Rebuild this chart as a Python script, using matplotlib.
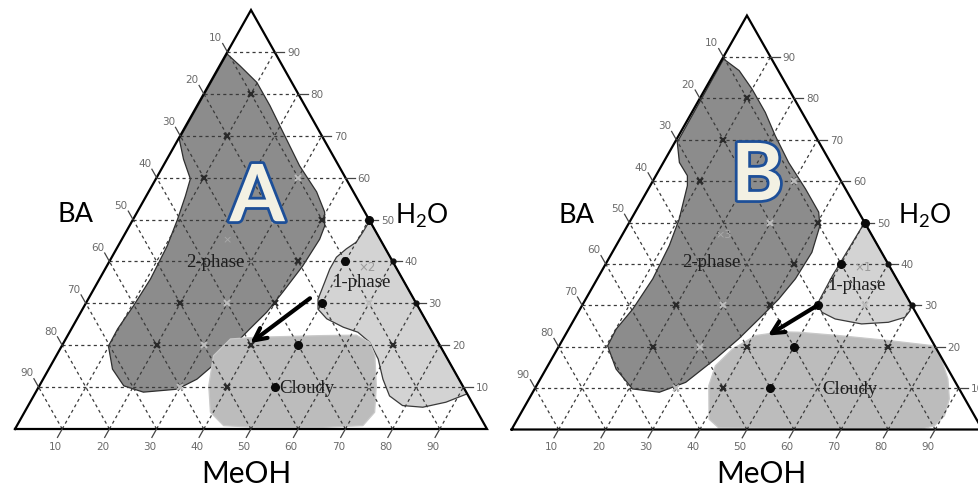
import numpy as np
import matplotlib.pyplot as plt
from matplotlib.patches import Polygon
from matplotlib import patheffects as pe

# all compositions in %, BA = 100 - MeOH - H2O
ticks = [10, 20, 30, 40, 50, 60, 70, 80, 90]
tick_labels = ['10', '20', '30', '40', '50', '60', '70', '80', '90']

# --- panel A regions (MeOH, H2O) ---
a_two_meoh = [0.2, 4.3, 9.9, 15.4, 21.3, 28.9, 35.6, 39.7, 41.4, 41.9, 41.5, 40.4, 39.4, 37.8, 36.3,
              34.8, 32.6, 29.6, 22.8, 17.9, 13.5, 9.9, 9.8, 10.4, 10.8, 10.4, 9.4, 8.3, 7.3, 3.5, 0.2]
a_two_h2o = [89.5, 86.7, 82.7, 77.2, 70.9, 62.8, 56.6, 51.8, 48.4, 45.3, 38.9, 32.7, 27.9, 23.9, 19.8,
             16.0, 11.9, 9.5, 8.8, 10.3, 14.3, 19.8, 23.9, 29.4, 35.8, 43.7, 50.1, 55.6, 59.7, 64.4, 69.2]
a_one_meoh = [50.3, 50.2, 50.0, 48.7, 47.6, 47.6, 48.1, 48.7, 49.9, 52.9, 57.4, 61.1, 64.8, 68.6,
              72.0, 75.4, 79.3, 83.8, 88.1, 91.6]
a_one_h2o = [49.7, 46.9, 44.6, 43.0, 41.0, 38.2, 35.0, 31.0, 28.6, 26.3, 24.3, 23.1, 20.7, 16.7,
             11.9, 7.9, 5.6, 5.2, 6.4, 8.4]
a_cloud_meoh = [33.3, 34.9, 40.3, 54.1, 61.1, 64.8, 67.5, 71.4, 74.2, 73.3, 65.1, 51.0, 43.8, 39.4, 35.9]
a_cloud_h2o = [17.5, 21.5, 21.9, 22.3, 22.4, 20.7, 17.5, 10.3, 4.0, 0.8, 0.4, 0.4, 0.8, 4.0, 10.3]
a_arrow = [(46.9, 31.2), (39.6, 20.5)]

# --- panel B regions (MeOH, H2O) ---
b_two_meoh = [0.3, 5.0, 10.0, 15.6, 20.5, 26.6, 33.4, 39.0, 40.9, 42.4, 42.1, 41.0, 39.2, 37.3, 34.8,
              31.3, 26.9, 20.8, 14.9, 10.3, 10.1, 11.2, 11.8, 11.3, 10.2, 7.9, 6.7, 3.4, 0.5]
b_two_h2o = [89.5, 86.7, 82.2, 76.6, 71.0, 64.5, 58.1, 52.5, 49.2, 42.8, 36.4, 31.5, 26.7, 21.9, 17.1,
             11.4, 9.0, 9.8, 14.6, 20.2, 24.3, 29.1, 36.4, 44.4, 50.8, 58.9, 61.3, 64.5, 69.4]
b_one_meoh = [50.0, 49.8, 49.6, 49.8, 51.8, 55.4, 61.6, 67.1, 70.0, 70.3, 69.9]
b_one_h2o = [50.0, 43.6, 37.2, 30.3, 28.3, 26.7, 25.5, 25.9, 27.1, 28.7, 30.1]
b_cloud_meoh = [40.7, 36.6, 35.6, 37.2, 40.5, 45.6, 49.2, 58.1, 69.3, 79.8, 82.8, 86.6, 89.3, 90.3,
                89.4, 87.0, 43.8]
b_cloud_h2o = [2.5, 10.6, 15.4, 19.4, 22.7, 23.6, 23.5, 22.7, 21.5, 20.2, 17.0, 12.2, 7.4, 3.3,
               0.9, 0.1, 0.4]
b_arrow = [(50.0, 30.0), (43.1, 22.7)]

# measured compositions (same grid in both panels)
dot_meoh = [50, 50, 50, 50, 50]
dot_h2o = [50, 40, 30, 20, 10]
edge_meoh = [60, 70]
edge_h2o = [40, 30]
cross_meoh = [40, 40, 40, 40, 40, 20, 20, 10, 10, 10, 70]
cross_h2o = [50, 40, 30, 20, 10, 30, 20, 60, 70, 80, 20]
faint_meoh = [30, 30, 30, 30, 30, 60]
faint_h2o = [60, 50, 30, 20, 10, 30]


def to_xy(meoh, h2o):
    meoh = np.asarray(meoh, float)
    h2o = np.asarray(h2o, float)
    return meoh + h2o / 2, h2o


def draw_panel(ax, two, one, cloud, arrow, letter, txt):
    # regions
    for (m, h), fc, ec in [(two, '#8c8c8c', '#2e2e2e'), (one, '#d3d3d3', '#3a3a3a'),
                           (cloud, '#bcbcbc', '#c9c9c9')]:
        x, y = to_xy(m, h)
        ax.add_patch(Polygon(np.column_stack([x, y]), closed=True, fc=fc, ec=ec, lw=0.9,
                             joinstyle='round', zorder=1))

    # dashed grid
    gkw = dict(color='#3a3a3a', lw=0.9, ls=(0, (2.5, 2.5)), zorder=2)
    for v in ticks:
        x, y = to_xy([0, 100 - v], [v, v])
        ax.plot(x, y, **gkw)
        x, y = to_xy([v, v], [0, 100 - v])
        ax.plot(x, y, **gkw)
        x, y = to_xy([100 - v, 0], [0, 100 - v])
        ax.plot(x, y, **gkw)

    # frame
    x, y = to_xy([0, 100, 0, 0], [0, 0, 100, 0])
    ax.plot(x, y, color='black', lw=1.6, zorder=3, solid_joinstyle='miter')

    # ticks + labels
    tkw = dict(color='#6a6a6a', fontsize=7.5, ha='center', va='center', family='DejaVu Sans')
    for v, lab in zip(ticks, tick_labels):
        # H2O on the right edge
        x0, y0 = to_xy(100 - v, v)
        ax.plot([x0, x0 + 2], [y0, y0], color='#444444', lw=0.9, zorder=3)
        ax.text(x0 + 4.0, y0, lab, **tkw)
        # MeOH on the base
        x0, y0 = to_xy(v, 0)
        ax.plot([x0, x0 - 1], [y0, y0 - 2], color='#444444', lw=0.9, zorder=3)
        ax.text(x0 - 1.5, y0 - 4.1, lab, **tkw)
        # BA on the left edge
        x0, y0 = to_xy(0, 100 - v)
        ax.plot([x0, x0 - 1], [y0, y0 + 2], color='#444444', lw=0.9, zorder=3)
        ax.text(x0 - 2.5, y0 + 3.5, lab, **tkw)

    # points
    x, y = to_xy(faint_meoh, faint_h2o)
    ax.plot(x, y, 'x', color='#bdbdbd', ms=4.5, mew=1.4, zorder=4)
    x, y = to_xy(cross_meoh, cross_h2o)
    ax.plot(x, y, 'x', color='#2a2a2a', ms=4.5, mew=1.6, zorder=4)
    x, y = to_xy(edge_meoh, edge_h2o)
    ax.plot(x, y, 'o', color='#111111', ms=3.5, zorder=4)
    x, y = to_xy(dot_meoh, dot_h2o)
    ax.plot(x, y, 'o', color='#0a0a0a', ms=5.5, zorder=4)

    # arrow
    (m0, h0), (m1, h1) = arrow
    ax.annotate('', xy=to_xy(m1, h1), xytext=to_xy(m0, h0),
                arrowprops=dict(arrowstyle='->', color='black', lw=3, mutation_scale=22,
                                shrinkA=0, shrinkB=0), zorder=5)

    # texts
    serif = dict(family='Liberation Serif', fontsize=13.5, color='#1e1e1e', ha='center', va='center',
                 zorder=6)
    ax.text(*txt['two'], '2-phase', **serif)
    ax.text(*txt['one'], '1-phase', **serif)
    ax.text(*txt['cloud'], 'Cloudy', **serif)
    ax.text(*txt['mark'][0], txt['mark'][1], family='DejaVu Sans', fontsize=8.5, color='#9a9a9a',
            ha='center', va='center', zorder=6)
    ax.text(*txt['mark2'][0], txt['mark2'][1], family='DejaVu Sans', fontsize=8, color='#a8a8a8',
            ha='center', va='center', zorder=6)

    big = dict(family=['Lato', 'DejaVu Sans'], color='black', ha='center', va='baseline')
    ax.text(*txt['ba'], 'BA', fontsize=19.5, **big)
    ax.text(*txt['h2o'], 'H$_\\mathregular{2}$O', fontsize=19, **big)
    ax.text(*txt['meoh'], 'MeOH', fontsize=21.5, **big)

    ax.text(*txt['letter'], letter, family=['Lato', 'DejaVu Sans'], fontweight='bold', fontsize=57,
            color='#f3f1e3', ha='center', va='baseline', zorder=7,
            path_effects=[pe.withStroke(linewidth=4, foreground='#1d4f98')])


fig = plt.figure(figsize=(9.79, 4.89), dpi=100)
ax_a = fig.add_axes([0, 0, 0.5, 1])
ax_b = fig.add_axes([0.5, 0, 0.5, 1])

draw_panel(ax_a, (a_two_meoh, a_two_h2o), (a_one_meoh, a_one_h2o), (a_cloud_meoh, a_cloud_h2o),
           a_arrow, 'A',
           dict(two=(42.4, 39.9), one=(73.5, 35.1), cloud=(61.9, 10.0),
                mark=((74.6, 38.9), '×2'), mark2=((45.0, 45.3), '×'),
                ba=(12.8, 49.6), h2o=(86.2, 49.4), meoh=(49.0, -12.6), letter=(51.3, 49.6)))
draw_panel(ax_b, (b_two_meoh, b_two_h2o), (b_one_meoh, b_one_h2o), (b_cloud_meoh, b_cloud_h2o),
           b_arrow, 'B',
           dict(two=(42.5, 40.7), one=(73.4, 35.1), cloud=(71.9, 10.0),
                mark=((74.7, 39.3), '×1'), mark2=((45.1, 47.2), '×3'),
                ba=(13.8, 50.1), h2o=(87.8, 50.1), meoh=(53.1, -12.8), letter=(52.2, 55.4)))

# pixel-matched limits for each half
ax_a.set_xlim(-3.18, 100.53)
ax_a.set_ylim(-14.08, 102.63)
ax_b.set_xlim(-4.69, 99.3)
ax_b.set_ylim(-14.13, 103.99)
for ax in (ax_a, ax_b):
    ax.set_axis_off()

fig.savefig('out.png', dpi=100, facecolor='white')
